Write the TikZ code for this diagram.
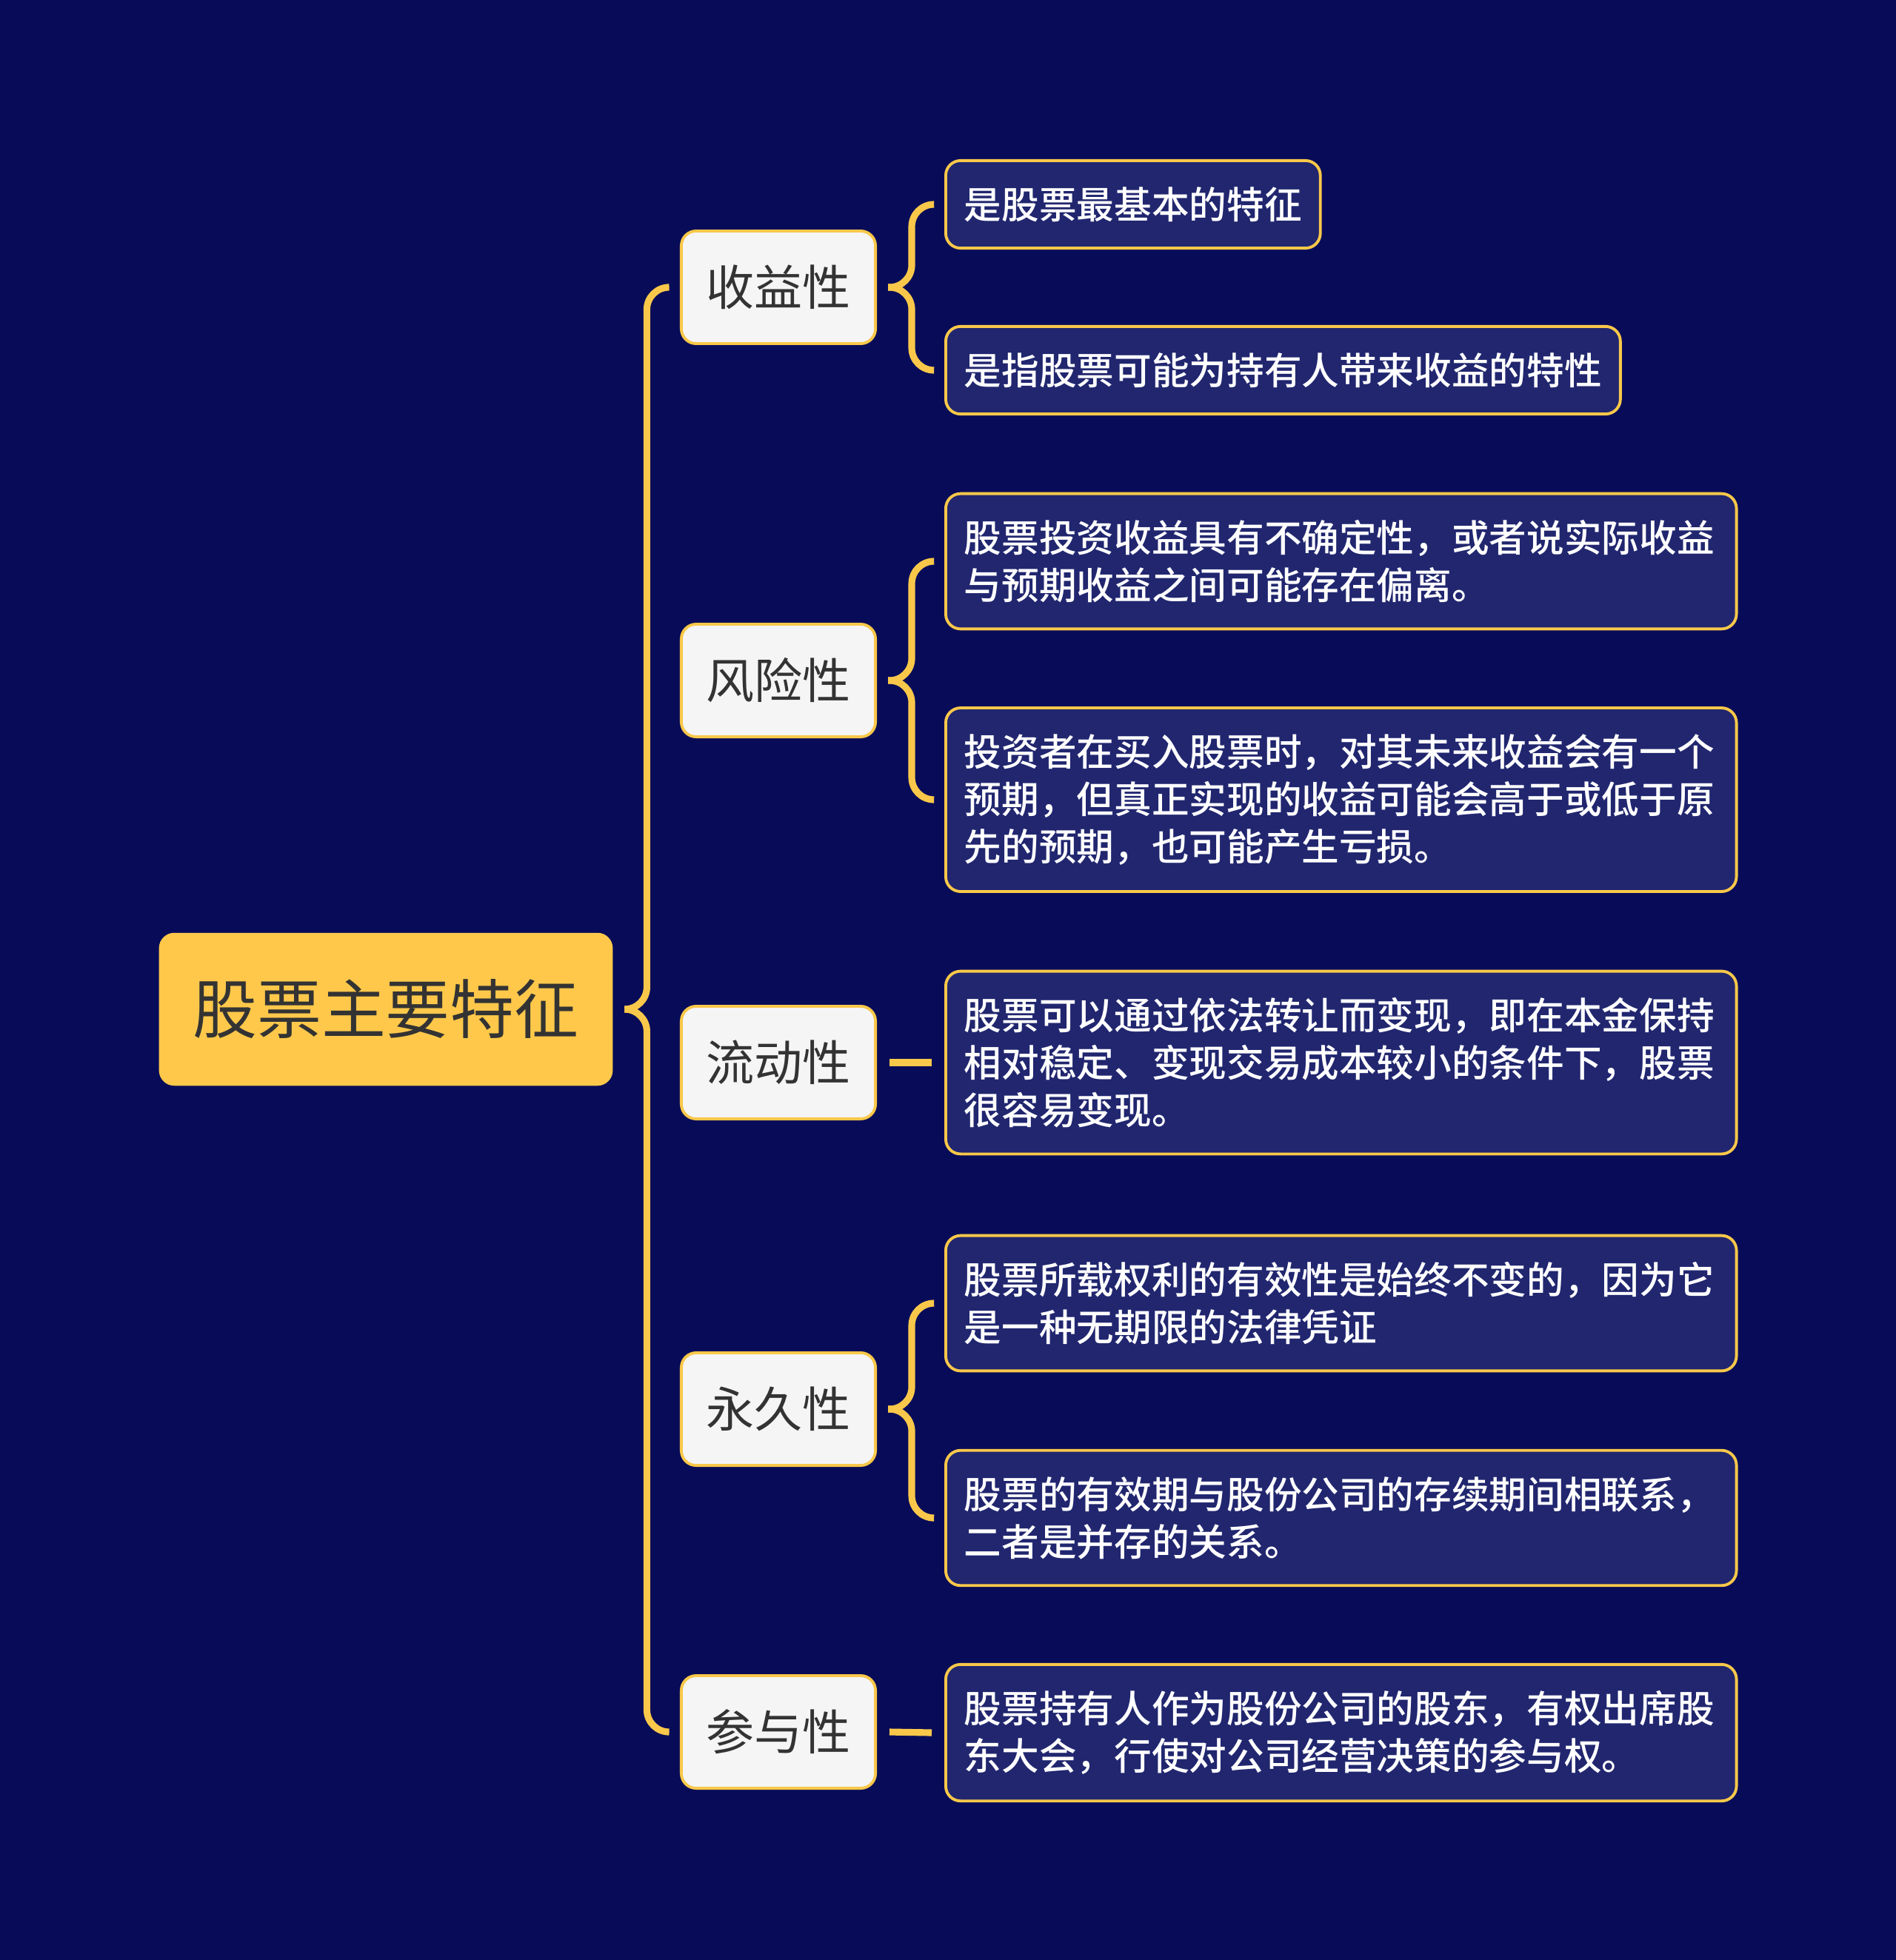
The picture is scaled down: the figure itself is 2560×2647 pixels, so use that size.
\documentclass[tikz,border=0pt]{standalone}
\usepackage{fontspec}
\setmainfont{Noto Sans CJK SC}
\newfontfamily\leaffont{Noto Sans CJK SC}[UprightFont={* Medium}]
\usepackage{tikz}
\usetikzlibrary{positioning}
\definecolor{navy}{HTML}{080C58}
\definecolor{leafnavy}{HTML}{21266F}
\definecolor{gold}{HTML}{F9C84A}
\definecolor{rootgold}{HTML}{FFC84A}
\definecolor{paper}{HTML}{F5F5F5}
\definecolor{ink}{HTML}{333333}
\tikzset{
  rootbox/.style={
    rectangle, rounded corners=0.2cm,
    fill=rootgold, draw=rootgold,
    minimum width=6.11cm, minimum height=2.05cm,
    text=ink, font=\fontsize{24.7pt}{30pt}\selectfont,
  },
  topicbox/.style={
    rectangle, rounded corners=0.2cm,
    fill=paper, draw=gold, line width=1.1pt,
    minimum width=2.62cm, minimum height=1.52cm,
    text=ink, font=\fontsize{18.5pt}{22pt}\selectfont,
  },
  leafbox/.style={
    rectangle, rounded corners=0.2cm,
    fill=leafnavy, draw=gold, line width=1.1pt,
    anchor=west, align=left, inner xsep=0.25cm, inner ysep=0.355cm,
    text=white, font=\leaffont\fontsize{14.4pt}{18.2pt}\selectfont,
  },
  wideleaf/.style={leafbox, text width=10.17cm},
  link/.style={draw=gold, line width=2.6pt, rounded corners=0.3cm},
}
\begin{document}
\begin{tikzpicture}[x=0.01cm, y=-0.01cm]

  % Background and frame
  \fill[navy] (0,0) rectangle (2560,2647);
  \useasboundingbox (0,0) rectangle (2560,2647);

  % Root and topics
  \node[rootbox]  (root)     at (521,1363)  {股票主要特征};
  \node[topicbox] (shouyi)   at (1051,388)  {收益性};
  \node[topicbox] (fengxian) at (1051,919)  {风险性};
  \node[topicbox] (liudong)  at (1051,1435) {流动性};
  \node[topicbox] (yongjiu)  at (1051,1903) {永久性};
  \node[topicbox] (canyu)    at (1051,2339) {参与性};

  % Details
  \node[leafbox]  (sy1) at (1275,276)  {是股票最基本的特征};
  \node[leafbox]  (sy2) at (1275,500)  {是指股票可能为持有人带来收益的特性};
  \node[wideleaf] (fx1) at (1275,758)  {股票投资收益具有不确定性，或者说实际收益\\与预期收益之间可能存在偏离。};
  \node[wideleaf] (fx2) at (1275,1080) {投资者在买入股票时，对其未来收益会有一个\\预期，但真正实现的收益可能会高于或低于原\\先的预期，也可能产生亏损。};
  \node[wideleaf] (ld1) at (1275,1435) {股票可以通过依法转让而变现，即在本金保持\\相对稳定、变现交易成本较小的条件下，股票\\很容易变现。};
  \node[wideleaf] (yj1) at (1275,1760) {股票所载权利的有效性是始终不变的，因为它\\是一种无期限的法律凭证};
  \node[wideleaf] (yj2) at (1275,2050) {股票的有效期与股份公司的存续期间相联系，\\二者是并存的关系。};
  \node[wideleaf] (cy1) at (1275,2340) {股票持有人作为股份公司的股东，有权出席股\\东大会，行使对公司经营决策的参与权。};

  % Brace from the root
  \foreach \c in {shouyi, canyu}
    \draw[link] ([xshift=-0.17cm]\c.west) -| ([xshift=0.46cm]root.east) -- ([xshift=0.17cm]root.east);

  % Braces from topics with two details
  \foreach \m/\a/\b in {shouyi/sy1/sy2, fengxian/fx1/fx2, yongjiu/yj1/yj2} {
    \draw[link] ([xshift=-0.14cm]\a.west) -| ([xshift=0.47cm]\m.east) -- ([xshift=0.15cm]\m.east);
    \draw[link] ([xshift=-0.14cm]\b.west) -| ([xshift=0.47cm]\m.east) -- ([xshift=0.15cm]\m.east);
  }

  % Single detail links
  \foreach \m/\a in {liudong/ld1, canyu/cy1}
    \draw[link] ([xshift=0.17cm]\m.east) -- ([xshift=-0.17cm]\a.west);

\end{tikzpicture}
\end{document}
